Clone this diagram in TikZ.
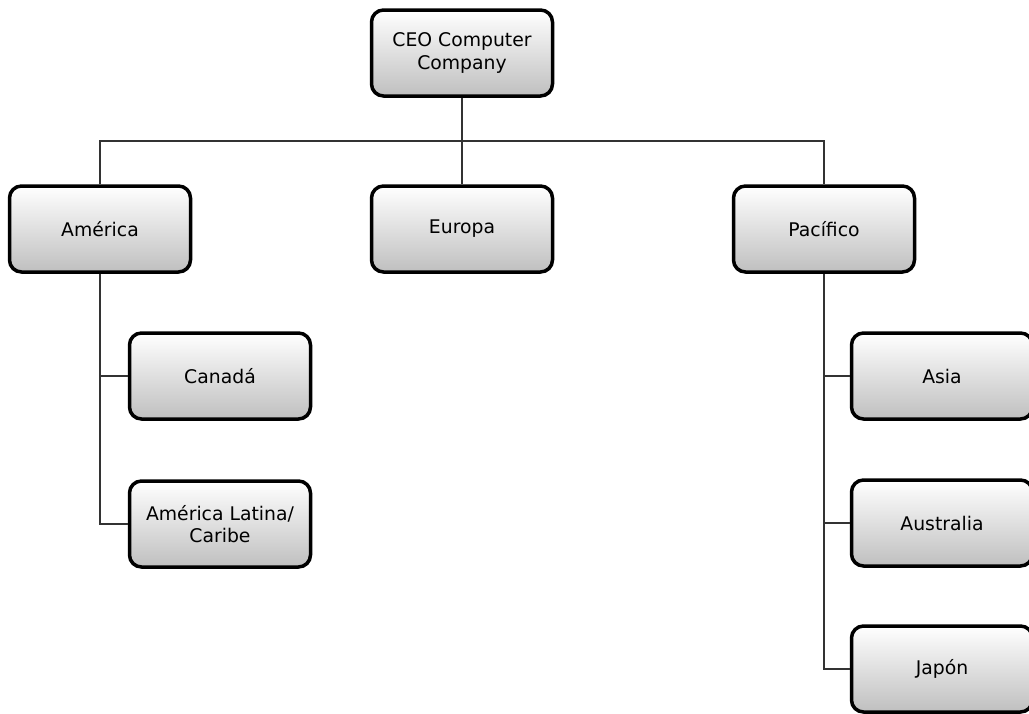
\documentclass[tikz,border=0pt]{standalone}
\usepackage{fontspec}
\setmainfont{DejaVu Sans}
\begin{document}
\begin{tikzpicture}[x=1pt,y=-1pt,
  unit/.style={draw=black, line width=3.5pt, rounded corners=12pt,
    top color=white, bottom color=gray!50, shading angle=0,
    minimum width=181pt, minimum height=86pt, align=center,
    font=\fontsize{18.8}{22.5}\selectfont, text=black},
  link/.style={draw=black!80, line width=1.3pt}]
\useasboundingbox (0,0) rectangle (1029,713);
\fill[white] (0,0) rectangle (1029,713);

% top level
\node[unit] (ceo) at (462,53) {CEO Computer\\Company};

% regions
\node[unit] (america)  at (100,229) {América};
\node[unit] (europa)   at (462,229) {Europa};
\node[unit] (pacifico) at (824,229) {Pacífico};

% America branch
\node[unit] (canada) at (220,376) {Canadá};
\node[unit] (latina) at (220,524) {América Latina/\\Caribe};

% Pacific branch
\node[unit] (asia)      at (942,376) {Asia};
\node[unit] (australia) at (942,523) {Australia};
\node[unit] (japon)     at (942,669) {Japón};

\coordinate (bus) at (462,141);

\draw[link] (ceo.south) -- (bus);
\draw[link] (america.north) |- (bus) -| (pacifico.north);
\draw[link] (bus) -- (europa.north);

\draw[link] (america.south) |- (latina.west);
\draw[link] (canada.west) -- (canada.west -| america.south);

\draw[link] (pacifico.south) |- (japon.west);
\draw[link] (asia.west) -- (asia.west -| pacifico.south);
\draw[link] (australia.west) -- (australia.west -| pacifico.south);
\end{tikzpicture}
\end{document}
